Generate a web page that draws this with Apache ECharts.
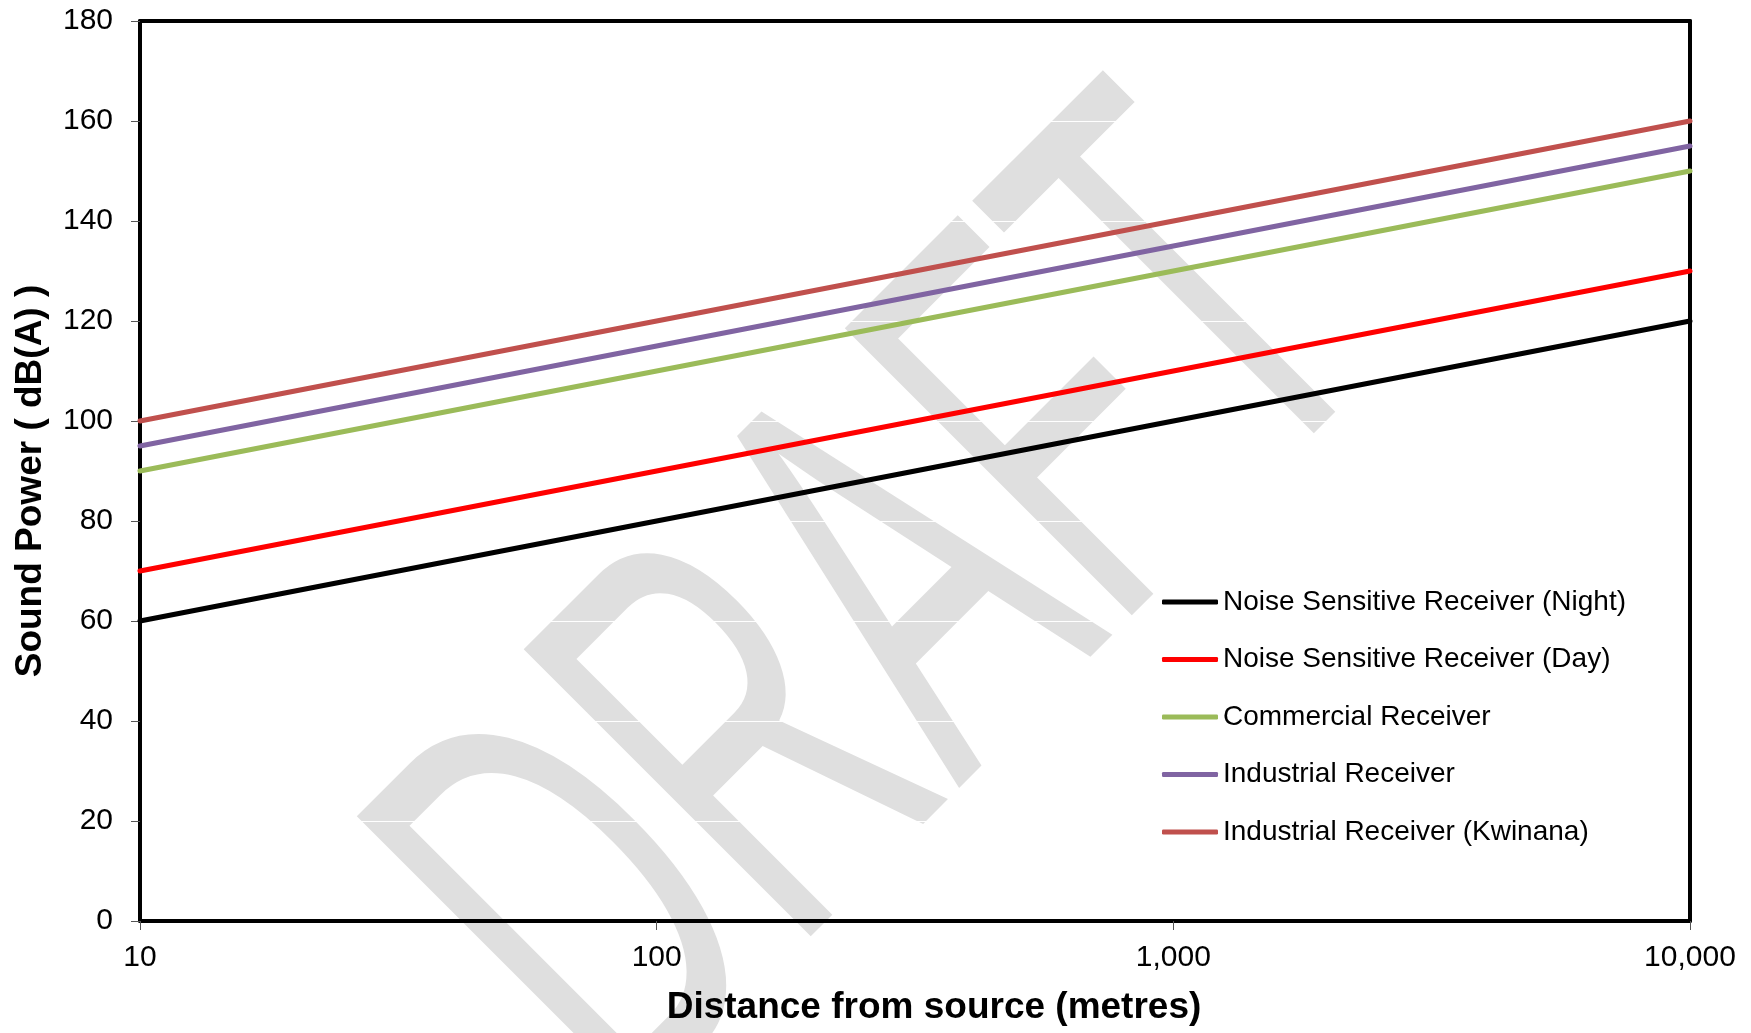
<!DOCTYPE html>
<html>
<head>
<meta charset="utf-8">
<script src="https://cdn.jsdelivr.net/npm/echarts@6/dist/echarts.min.js"></script>
<style>
html,body{margin:0;padding:0;background:#fff;}
#chart{width:1751px;height:1033px;}
</style>
</head>
<body>
<div id="chart"></div>
<script>
// ---- data ----
const distances = [10, 100, 1000, 10000];
const seriesNames = [
  'Noise Sensitive Receiver (Night)',
  'Noise Sensitive Receiver (Day)',
  'Commercial Receiver',
  'Industrial Receiver',
  'Industrial Receiver (Kwinana)'
];
const nightValues = [60, 80, 100, 120];
const dayValues = [70, 90, 110, 130];
const commercialValues = [90, 110, 130, 150];
const industrialValues = [95, 115, 135, 155];
const kwinanaValues = [100, 120, 140, 160];
const seriesColors = ['#000000', '#FF0000', '#9BBB59', '#8064A2', '#C0504D'];
const xTickValues = [10, 100, 1000, 10000];
const xTickLabels = ['10', '100', '1,000', '10,000'];
const yTickLabels = ['0','20','40','60','80','100','120','140','160','180'];
const xTitle = 'Distance from source (metres)';
const yTitle = 'Sound Power ( dB(A) )';
const watermark = 'DRAFT';

const FONT = '"Liberation Sans", Arial, sans-serif';
const allValues = [nightValues, dayValues, commercialValues, industrialValues, kwinanaValues];

const chart = echarts.init(document.getElementById('chart'), null, {renderer: 'canvas'});
const option = {
  animation: false,
  backgroundColor: '#ffffff',
  textStyle: {fontFamily: FONT},
  grid: {
    left: 140, right: 61, top: 21, bottom: 112,
    show: false, containLabel: false
  },
  xAxis: [{
    type: 'log', logBase: 10, min: 10, max: 10000, position: 'bottom',
    axisLine: {show: true, lineStyle: {color: '#000', width: 4}},
    axisTick: {show: true, length: 9, inside: false, lineStyle: {color: '#555', width: 1}},
    minorTick: {show: false},
    splitLine: {show: false},
    axisLabel: {
      fontSize: 30, color: '#000', fontFamily: FONT, margin: 22,
      formatter: function (v) {
        const i = xTickValues.findIndex(t => Math.abs(t - v) < 1e-6 * t);
        return i >= 0 ? xTickLabels[i] : '';
      }
    }
  }, {
    type: 'log', logBase: 10, min: 10, max: 10000, position: 'top',
    axisLine: {show: true, onZero: false, lineStyle: {color: '#000', width: 4}},
    axisTick: {show: false}, axisLabel: {show: false}, splitLine: {show: false}
  }],
  yAxis: [{
    type: 'value', min: 0, max: 180, interval: 20, position: 'left',
    axisLine: {show: true, lineStyle: {color: '#000', width: 4}},
    axisTick: {show: true, length: 9, inside: false, lineStyle: {color: '#555', width: 1}},
    splitLine: {show: true, lineStyle: {color: '#ffffff', width: 1}},
    axisLabel: {
      fontSize: 30, color: '#000', fontFamily: FONT, margin: 27,
      formatter: function (v) { return yTickLabels[Math.round(v / 20)]; }
    }
  }, {
    type: 'value', min: 0, max: 180, interval: 20, position: 'right',
    axisLine: {show: true, onZero: false, lineStyle: {color: '#000', width: 4}},
    axisTick: {show: false}, axisLabel: {show: false}, splitLine: {show: false}
  }],
  legend: {
    orient: 'vertical', left: 1162, top: 588, padding: 0,
    icon: 'roundRect', itemWidth: 56, itemHeight: 5, itemGap: 29.5,
    textStyle: {fontSize: 28, color: '#000', fontFamily: FONT, lineHeight: 28, padding: [0,0,0,0]},
    data: seriesNames
  },
  graphic: [
    {
      type: 'text', z: -100, zlevel: 0, silent: true,
      x: 895, y: 622, rotation: Math.PI / 4, scaleX: 0.554, scaleY: 1,
      style: {
        text: watermark, font: '590px ' + FONT, fill: '#dfdfdf',
        textAlign: 'center', textVerticalAlign: 'middle', align: 'center', verticalAlign: 'middle'
      }
    },
    {
      type: 'text', z: 10, x: 934, y: 1008,
      style: {
        text: xTitle, font: 'bold 37px ' + FONT, fill: '#000',
        textAlign: 'center', textVerticalAlign: 'middle', align: 'center', verticalAlign: 'middle'
      }
    },
    {
      type: 'text', z: 10, x: 31, y: 481, rotation: Math.PI / 2,
      style: {
        text: yTitle, font: 'bold 37px ' + FONT, fill: '#000',
        textAlign: 'center', textVerticalAlign: 'middle', align: 'center', verticalAlign: 'middle'
      }
    }
  ],
  series: seriesNames.map((name, i) => ({
    name: name,
    type: 'line',
    symbol: 'none',
    xAxisIndex: 0, yAxisIndex: 0,
    z: 3,
    color: seriesColors[i],
    lineStyle: {color: seriesColors[i], width: 5, cap: 'round'},
    itemStyle: {color: seriesColors[i]},
    data: distances.map((d, j) => [d, allValues[i][j]])
  }))
};
chart.setOption(option);
</script>
</body>
</html>
